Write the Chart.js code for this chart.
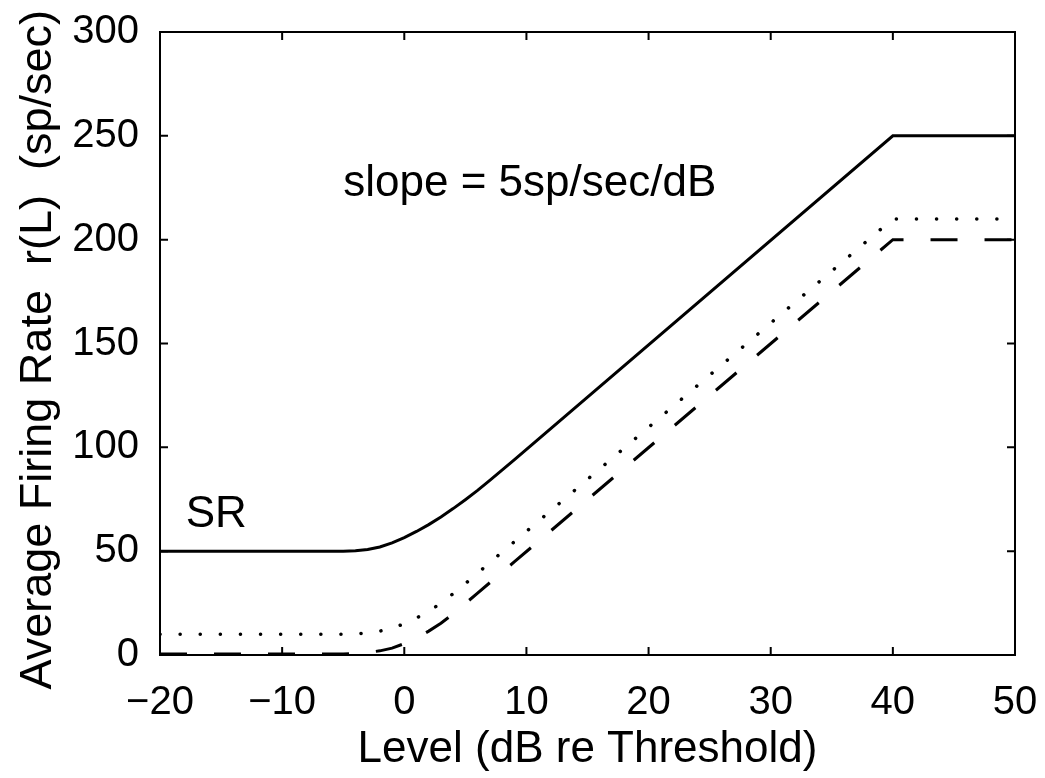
<!DOCTYPE html>
<html>
<head>
<meta charset="utf-8">
<script src="https://cdn.jsdelivr.net/npm/chart.js@4.4.1/dist/chart.umd.min.js"></script>
<style>
  html, body { margin: 0; padding: 0; background: #fff; }
  #wrap { width: 1045px; height: 778px; }
</style>
</head>
<body>
<div id="wrap"><canvas id="rateChart" width="1045" height="778"></canvas></div>
<script>
// taso (dB re kynnys) ja kolmen kuidun purkausnopeudet
const levels = [-20, -5, -4, -3, -2, -1, 0, 1, 2, 3, 4, 5, 6, 7, 8, 9, 40, 50];
const rateSolid  = [50, 50, 50.2, 50.8, 52, 54, 56.5, 59.5, 62.8, 66.5, 70.5, 74.8, 79.3, 84.1, 89, 94, 250, 250];
const rateDotted = [10, 10, 10.2, 10.6, 11.5, 13, 15, 17.8, 21, 25, 29.5, 34.4, 39.4, 44.5, 49.5, 54.5, 210, 210];
const rateDashed = [0.5, 0.5, 0.7, 1.2, 2, 3.3, 5.5, 8.2, 11.5, 15.3, 19.8, 24.8, 29.8, 34.8, 39.8, 44.8, 200, 200];

// akselien tikit
const xTicks = [-20, -10, 0, 10, 20, 30, 40, 50];
const xTickLabels = ['\u221220', '\u221210', '0', '10', '20', '30', '40', '50'];
const yTicks = [0, 50, 100, 150, 200, 250, 300];
const yTickLabels = ['0', '50', '100', '150', '200', '250', '300'];

// tekstit kuvan sisällä (paikka datakoordinaateissa)
const notes = [
  { text: 'slope = 5sp/sec/dB', x: -5.0, y: 221 },
  { text: 'SR', x: -17.9, y: 61.5 }
];

const FONT = '"Liberation Sans", Arial, Helvetica, sans-serif';

function toPoints(ys) {
  return levels.map((l, i) => ({ x: l, y: ys[i] }));
}

// kehys + sisäänpäin osoittavat tikit (MATLAB-tyyli)
const framePlugin = {
  id: 'frame',
  afterDatasetsDraw(chart) {
    const c = chart.ctx;
    const a = chart.chartArea;
    const xs = chart.scales.x, ys = chart.scales.y;
    const len = 8;
    c.save();
    c.strokeStyle = '#000';
    c.lineWidth = 2;
    c.strokeRect(a.left, a.top, a.right - a.left, a.bottom - a.top);
    c.beginPath();
    xTicks.forEach(v => {
      const px = xs.getPixelForValue(v);
      c.moveTo(px, a.bottom); c.lineTo(px, a.bottom - len);
      c.moveTo(px, a.top); c.lineTo(px, a.top + len);
    });
    yTicks.forEach(v => {
      const py = ys.getPixelForValue(v);
      c.moveTo(a.left, py); c.lineTo(a.left + len, py);
      c.moveTo(a.right, py); c.lineTo(a.right - len, py);
    });
    c.stroke();
    c.restore();
  },
  afterDraw(chart) {
    const c = chart.ctx;
    const xs = chart.scales.x, ys = chart.scales.y;
    c.save();
    c.fillStyle = '#000';
    c.font = '44px ' + FONT;
    c.textBaseline = 'alphabetic';
    c.textAlign = 'left';
    notes.forEach(n => {
      c.fillText(n.text, xs.getPixelForValue(n.x), ys.getPixelForValue(n.y));
    });
    c.restore();
  }
};

const ctx = document.getElementById('rateChart').getContext('2d');

new Chart(ctx, {
  type: 'line',
  data: {
    datasets: [
      {
        label: 'solid',
        data: toPoints(rateSolid),
        borderColor: '#000',
        borderWidth: 3
      },
      {
        label: 'dotted',
        data: toPoints(rateDotted),
        borderColor: '#000',
        borderWidth: 3.5,
        borderDash: [0.1, 20],
        borderCapStyle: 'round'
      },
      {
        label: 'dashed',
        data: toPoints(rateDashed),
        borderColor: '#000',
        borderWidth: 3,
        borderDash: [27, 27]
      }
    ]
  },
  options: {
    responsive: false,
    devicePixelRatio: 1,
    animation: false,
    events: [],
    layout: { padding: { left: 0, top: 32, right: 30, bottom: 0 } },
    elements: {
      point: { radius: 0 },
      line: { tension: 0, fill: false }
    },
    plugins: {
      legend: { display: false },
      tooltip: { enabled: false }
    },
    scales: {
      x: {
        type: 'linear',
        min: -20,
        max: 50,
        afterBuildTicks: s => { s.ticks = xTicks.map(v => ({ value: v })); },
        afterFit: s => { s.height = 123; s.paddingLeft = 0; s.paddingRight = 0; },
        grid: { display: false },
        border: { display: true, color: '#000', width: 2 },
        ticks: {
          color: '#000',
          padding: 16,
          maxRotation: 0,
          font: { family: FONT, size: 40 },
          callback: v => xTickLabels[xTicks.indexOf(v)]
        },
        title: {
          display: true,
          text: 'Level (dB re Threshold)',
          color: '#000',
          font: { family: FONT, size: 44 },
          padding: { top: 0, bottom: 2 }
        }
      },
      y: {
        min: 0,
        max: 300,
        afterBuildTicks: s => { s.ticks = yTicks.map(v => ({ value: v })); },
        afterFit: s => { s.width = 160; s.paddingTop = 0; s.paddingBottom = 0; },
        grid: { display: false },
        border: { display: true, color: '#000', width: 2 },
        ticks: {
          color: '#000',
          padding: 13,
          font: { family: FONT, size: 40 },
          callback: v => yTickLabels[yTicks.indexOf(v)]
        },
        title: {
          display: true,
          text: 'Average Firing Rate  r(L)  (sp/sec) ',
          color: '#000',
          font: { family: FONT, size: 45 },
          padding: { top: 12, bottom: 0 }
        }
      }
    }
  },
  plugins: [framePlugin]
});
</script>
</body>
</html>
